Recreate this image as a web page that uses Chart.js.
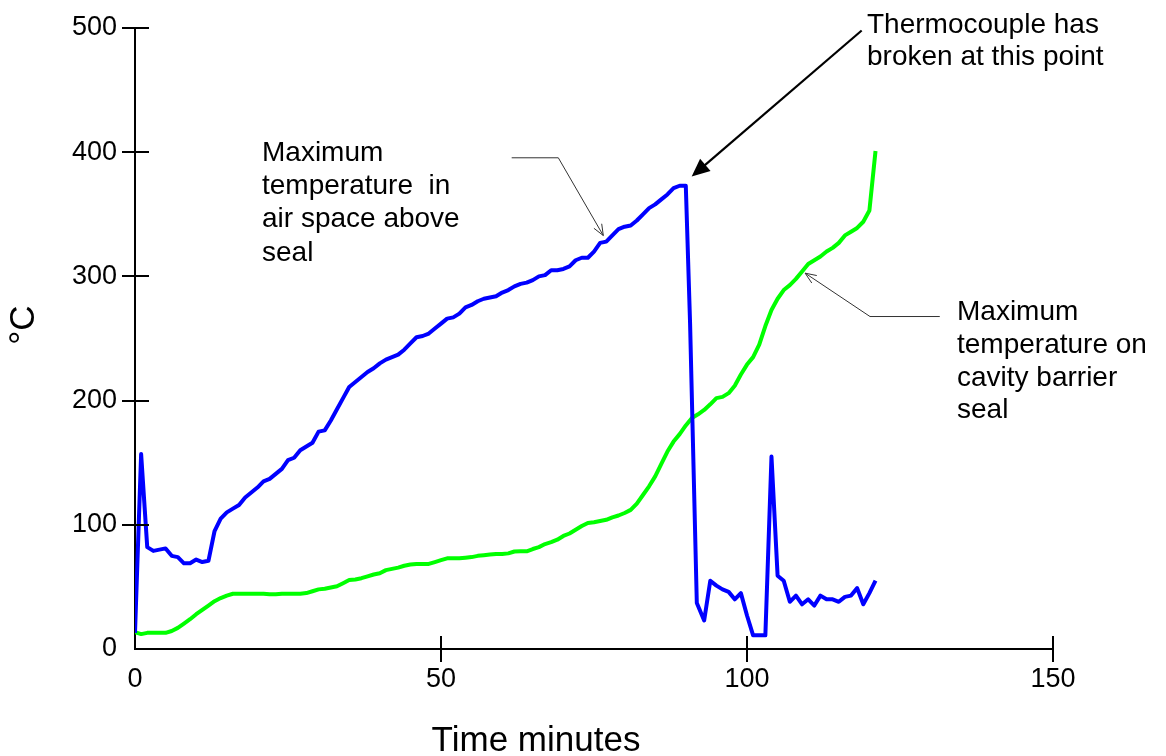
<!DOCTYPE html>
<html>
<head>
<meta charset="utf-8">
<title>Thermocouple temperatures</title>
<script src="https://cdn.jsdelivr.net/npm/chart.js@4/dist/chart.umd.min.js"></script>
<style>
  html, body { margin: 0; padding: 0; background: #fff; }
  #wrap { width: 1166px; height: 756px; position: relative; }
</style>
</head>
<body>
<div id="wrap"><canvas id="chart"></canvas></div>
<script>
// Time axis (minutes) and readings (°C)
const X_TICKS = [0, 50, 100, 150];
const Y_TICKS = [0, 100, 200, 300, 400, 500];

// Blue: maximum temperature in air space above seal
const airTime = [
  0, 1, 2, 3, 4, 5, 6, 7, 8, 9, 10, 11, 12, 13, 14, 15, 16, 17, 18, 19,
  20, 21, 22, 23, 24, 25, 26, 27, 28, 29, 30, 31, 32, 33, 34, 35, 36, 37, 38, 39,
  40, 41, 42, 43, 44, 45, 46, 47, 48, 49, 50, 51, 52, 53, 54, 55, 56, 57, 58, 59,
  60, 61, 62, 63, 64, 65, 66, 67, 68, 69, 70, 71, 72, 73, 74, 75, 76, 77, 78, 79,
  80, 81, 82, 83, 84, 85, 86, 87, 88, 89, 90, 90.7, 91.8, 93, 94, 95, 96, 97, 98, 99,
  100, 101, 102, 103, 104, 105, 106, 107, 108, 109, 110, 111, 112, 113, 114, 115, 116, 117, 118, 119,
  120, 121
];
const airTemp = [
  13, 157, 82, 79, 80, 81, 75, 74, 69, 69, 72, 70, 71, 95, 105, 110, 113, 116, 122, 126,
  130, 135, 137, 141, 145, 152, 154, 160, 163, 166, 175, 176, 184, 193, 202, 211, 215, 219, 223, 226,
  230, 233, 235, 237, 241, 246, 251, 252, 254, 258, 262, 266, 267, 270, 275, 277, 280, 282, 283, 284,
  287, 289, 292, 294, 295, 297, 300, 301, 305, 305, 306, 308, 313, 315, 315, 320, 327, 328, 333, 338,
  340, 341, 345, 350, 355, 358, 362, 366, 371, 373, 373, 262, 37, 23, 55, 51, 48, 46, 40, 45,
  27, 11, 11, 11, 155, 59, 55, 38, 43, 36, 40, 35, 43, 40, 40, 38, 42, 43, 49, 36,
  45, 55
];

// Green: maximum temperature on cavity barrier seal
const sealTime = [
  0, 1, 2, 3, 4, 5, 6, 7, 8, 9, 10, 11, 12, 13, 14, 15, 16, 17, 18, 19,
  20, 21, 22, 23, 24, 25, 26, 27, 28, 29, 30, 31, 32, 33, 34, 35, 36, 37, 38, 39,
  40, 41, 42, 43, 44, 45, 46, 47, 48, 49, 50, 51, 52, 53, 54, 55, 56, 57, 58, 59,
  60, 61, 62, 63, 64, 65, 66, 67, 68, 69, 70, 71, 72, 73, 74, 75, 76, 77, 78, 79,
  80, 81, 82, 83, 84, 85, 86, 87, 88, 89, 90, 91, 92, 93, 94, 95, 96, 97, 98, 99,
  100, 101, 102, 103, 104, 105, 106, 107, 108, 109, 110, 111, 112, 113, 114, 115, 116, 117, 118, 119,
  120, 121
];
const sealTemp = [
  13.5, 12, 13, 13, 13, 13, 14.5, 17, 20.5, 24, 28, 31.5, 35, 38.5, 41, 43, 44.5, 44.5, 44.5, 44.5,
  44.5, 44.5, 44, 44, 44.5, 44.5, 44.5, 44.5, 45, 46.5, 48, 48.5, 49.5, 50.5, 53, 55.5, 56, 57, 58.5, 60,
  61, 63.5, 64.5, 65.5, 67, 68, 68.5, 68.5, 68.5, 70, 71.5, 73, 73, 73, 73.5, 74, 75, 75.5, 76, 76.5,
  76.5, 77, 78.5, 78.7, 78.7, 80.5, 82, 84.5, 86, 88, 91, 93, 96, 99, 101.5, 102, 103, 104, 106, 107.5,
  109.5, 112, 117, 124, 131, 139, 149, 159, 167, 173, 180, 186, 189, 192.5, 197, 202, 203, 206, 212, 221,
  229, 235, 245, 260, 273, 282, 289, 293, 298, 304, 310, 313, 316, 320, 323, 327, 333, 336, 339, 344,
  353, 401
];

const FONT = '"Liberation Sans", Arial, Helvetica, sans-serif';

// Chart area edges in page pixels
const AREA = { left: 135, top: 28, right: 1053, bottom: 649 };

function toPoints(xs, ys) {
  return xs.map((x, i) => ({ x, y: ys[i] }));
}

function drawArrowHead(ctx, fromX, fromY, tipX, tipY, len, half, filled) {
  const ang = Math.atan2(tipY - fromY, tipX - fromX);
  const bx = tipX - len * Math.cos(ang);
  const by = tipY - len * Math.sin(ang);
  const px = -Math.sin(ang) * half;
  const py = Math.cos(ang) * half;
  ctx.beginPath();
  if (filled) {
    ctx.moveTo(tipX, tipY);
    ctx.lineTo(bx + px, by + py);
    ctx.lineTo(bx - px, by - py);
    ctx.closePath();
    ctx.fill();
  } else {
    ctx.moveTo(bx + px, by + py);
    ctx.lineTo(tipX, tipY);
    ctx.lineTo(bx - px, by - py);
    ctx.stroke();
  }
}

// crossing tick marks, axis titles and the call-outs
const decorPlugin = {
  id: 'decor',
  afterDraw(chart) {
    const { ctx, scales } = chart;
    const xs = scales.x;
    const ys = scales.y;
    ctx.save();

    // ticks cross the axis lines, none at the origin
    ctx.strokeStyle = '#000';
    ctx.lineWidth = 2;
    ctx.beginPath();
    for (const v of X_TICKS) {
      if (v === 0) continue;
      const px = Math.round(xs.getPixelForValue(v));
      ctx.moveTo(px, ys.bottom - 13);
      ctx.lineTo(px, ys.bottom + 13);
    }
    for (const v of Y_TICKS) {
      if (v === 0) continue;
      const py = Math.round(ys.getPixelForValue(v));
      ctx.moveTo(xs.left - 13, py);
      ctx.lineTo(xs.left + 14, py);
    }
    ctx.stroke();

    // axis titles
    ctx.fillStyle = '#000';
    ctx.font = '35px ' + FONT;
    ctx.textAlign = 'center';
    ctx.textBaseline = 'alphabetic';
    ctx.fillText('Time minutes', 536, 751);

    ctx.save();
    ctx.translate(24, 325);
    ctx.rotate(-Math.PI / 2);
    ctx.textBaseline = 'middle';
    ctx.fillText('°C', 0, 0);
    ctx.restore();

    // call-out text
    ctx.font = '28px ' + FONT;
    ctx.textAlign = 'left';
    ctx.textBaseline = 'alphabetic';
    const leftNote = ['Maximum', 'temperature  in', 'air space above', 'seal'];
    leftNote.forEach((s, i) => ctx.fillText(s, 262, 161 + i * 33.2));
    const rightNote = ['Maximum', 'temperature on', 'cavity barrier', 'seal'];
    rightNote.forEach((s, i) => ctx.fillText(s, 957, 320 + i * 32.8));
    const topNote = ['Thermocouple has', 'broken at this point'];
    topNote.forEach((s, i) => ctx.fillText(s, 867, 33 + i * 31.5));

    const P = (t, v) => [xs.getPixelForValue(t), ys.getPixelForValue(v)];

    // thin leader lines
    ctx.strokeStyle = '#333';
    ctx.lineWidth = 1;
    const leaders = [
      [[61.55, 395.5], [69.17, 395.5], [76.52, 332.9]],
      [[131.5, 267.7], [120.1, 267.7], [109.5, 302.6]]
    ];
    for (const pts of leaders) {
      const px = pts.map(p => P(p[0], p[1]));
      ctx.beginPath();
      ctx.moveTo(px[0][0], px[0][1]);
      for (let i = 1; i < px.length; i++) ctx.lineTo(px[i][0], px[i][1]);
      ctx.stroke();
      const a = px[px.length - 2];
      const b = px[px.length - 1];
      drawArrowHead(ctx, a[0], a[1], b[0], b[1], 11, 4.5, false);
    }

    // heavy arrow to the break point
    const s = P(118.74, 498.0);
    const e = P(90.96, 380.4);
    const ang = Math.atan2(e[1] - s[1], e[0] - s[0]);
    ctx.strokeStyle = '#000';
    ctx.fillStyle = '#000';
    ctx.lineWidth = 2.2;
    ctx.beginPath();
    ctx.moveTo(s[0], s[1]);
    ctx.lineTo(e[0] - 14 * Math.cos(ang), e[1] - 14 * Math.sin(ang));
    ctx.stroke();
    drawArrowHead(ctx, s[0], s[1], e[0], e[1], 18, 8, true);

    ctx.restore();
  }
};

new Chart(document.getElementById('chart'), {
  type: 'scatter',
  data: {
    datasets: [
      {
        label: 'Air space above seal',
        data: toPoints(airTime, airTemp),
        showLine: true,
        borderColor: '#0000ff',
        borderWidth: 4,
        pointRadius: 0,
        tension: 0,
        borderJoinStyle: 'round'
      },
      {
        label: 'Cavity barrier seal',
        data: toPoints(sealTime, sealTemp),
        showLine: true,
        borderColor: '#00ff00',
        borderWidth: 4,
        pointRadius: 0,
        tension: 0,
        borderJoinStyle: 'round'
      }
    ]
  },
  options: {
    responsive: true,
    maintainAspectRatio: false,
    animation: false,
    events: [],
    layout: {
      padding: { left: 0, top: AREA.top, right: 1166 - AREA.right, bottom: 0 }
    },
    plugins: {
      legend: { display: false },
      tooltip: { enabled: false }
    },
    scales: {
      x: {
        type: 'linear',
        min: 0,
        max: 150,
        afterFit: (scale) => { scale.height = 756 - AREA.bottom; },
        afterBuildTicks: (scale) => { scale.ticks = X_TICKS.map(v => ({ value: v })); },
        grid: { display: false, drawTicks: true, tickLength: 13 },
        border: { display: true, color: '#000', width: 2 },
        ticks: {
          color: '#000',
          padding: 1,
          maxRotation: 0,
          font: { family: FONT, size: 27 }
        }
      },
      y: {
        type: 'linear',
        min: 0,
        max: 500,
        afterFit: (scale) => { scale.width = AREA.left; },
        afterBuildTicks: (scale) => { scale.ticks = Y_TICKS.map(v => ({ value: v })); },
        grid: { display: false, drawTicks: true, tickLength: 13 },
        border: { display: true, color: '#000', width: 2 },
        ticks: {
          color: '#000',
          padding: 5,
          font: { family: FONT, size: 27 }
        }
      }
    }
  },
  plugins: [decorPlugin]
});
</script>
</body>
</html>
